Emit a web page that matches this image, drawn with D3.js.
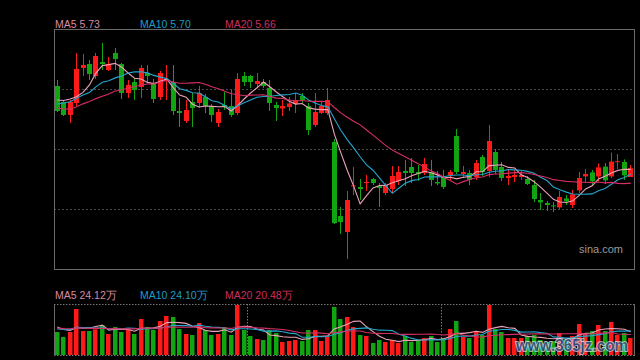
<!DOCTYPE html>
<html><head><meta charset="utf-8">
<script src="https://cdn.jsdelivr.net/npm/d3@7/dist/d3.min.js"></script>
<style>html,body{margin:0;padding:0;background:#000;}svg{display:block;}</style>
</head><body>
<svg id="c" width="640" height="360"></svg>
<script>
// ---- data (prices in CNY, volume in 万) ----
const priorCloses = [6.100,6.085,5.985,5.965,5.975,6.000,6.025,6.015,5.995,6.005,5.950,6.002,6.060,6.085,6.079,6.013,6.029,6.173,6.141];
const opens  = [6.145,6.065,6.000,6.060,6.235,6.255,6.195,6.265,6.225,6.310,6.255,6.110,6.165,6.140,6.210,6.160,6.090,6.170,6.165,6.020,
                5.970,6.065,6.060,6.090,6.045,5.960,6.050,6.045,6.010,6.195,6.195,6.155,6.165,6.135,6.050,6.033,6.040,6.055,6.095,6.045,
                5.950,6.010,6.010,5.865,5.495,5.415,5.643,5.640,5.660,5.680,5.645,5.610,5.630,5.670,5.720,5.740,5.715,5.710,5.715,5.665,
                5.695,5.700,5.895,5.705,5.710,5.690,5.790,5.720,5.815,5.740,5.685,5.690,5.690,5.680,5.650,5.575,5.560,5.548,5.538,5.583,
                5.550,5.623,5.693,5.713,5.693,5.742,5.693,5.764,5.765,5.690];
const closes = [6.020,6.000,6.066,6.230,6.250,6.205,6.295,6.255,6.255,6.280,6.110,6.150,6.125,6.235,6.195,6.080,6.210,6.180,6.020,6.010,
                6.025,6.035,6.110,6.045,6.000,6.015,6.040,6.000,6.180,6.165,6.165,6.170,6.145,6.060,6.035,6.045,6.058,6.075,6.075,5.925,
                6.015,6.045,6.075,5.460,5.465,5.575,5.648,5.630,5.665,5.660,5.635,5.650,5.695,5.715,5.710,5.710,5.705,5.755,5.675,5.658,
                5.640,5.715,5.715,5.715,5.675,5.760,5.715,5.870,5.725,5.685,5.695,5.700,5.700,5.655,5.580,5.563,5.550,5.543,5.590,5.568,
                5.603,5.685,5.705,5.668,5.738,5.673,5.767,5.769,5.698,5.734];
const highs  = [6.175,6.070,6.075,6.310,6.305,6.275,6.310,6.360,6.290,6.335,6.260,6.175,6.185,6.250,6.250,6.180,6.220,6.250,6.250,6.085,
                6.075,6.110,6.145,6.105,6.055,6.030,6.115,6.125,6.210,6.215,6.200,6.210,6.180,6.175,6.065,6.075,6.090,6.110,6.110,6.060,
                6.110,6.070,6.135,5.880,5.540,5.620,5.740,5.680,5.700,5.685,5.660,5.660,5.745,5.745,5.775,5.785,5.750,5.785,5.775,5.720,
                5.725,5.725,5.930,5.745,5.725,5.775,5.800,5.950,5.830,5.765,5.730,5.725,5.720,5.695,5.675,5.610,5.570,5.565,5.620,5.600,
                5.625,5.715,5.730,5.725,5.758,5.760,5.812,5.805,5.778,5.750];
const lows   = [6.015,5.995,5.960,6.045,6.195,6.175,6.180,6.225,6.220,6.225,6.080,6.085,6.075,6.085,6.165,6.060,6.075,6.075,6.000,5.940,
                5.960,5.940,6.035,6.010,5.965,5.940,6.025,5.990,6.000,6.145,6.135,6.135,6.135,6.020,5.970,5.995,6.020,6.010,6.060,5.900,
                5.940,6.005,6.000,5.455,5.405,5.280,5.600,5.575,5.620,5.650,5.540,5.600,5.610,5.650,5.645,5.660,5.670,5.700,5.645,5.650,
                5.630,5.670,5.705,5.685,5.650,5.675,5.695,5.690,5.705,5.670,5.650,5.665,5.675,5.650,5.565,5.525,5.520,5.515,5.530,5.550,
                5.535,5.610,5.660,5.645,5.670,5.655,5.685,5.730,5.675,5.690];
const priorVolumes = [30,26,29,27,31,25,28,30,26,28,22,25,24,26,23,30,28,31,28];
const volumes = [23,18,23,46,24,24,25.7,29.7,21,28,23,25.7,21,36,28,25,34,39,38,26,
                 21,20,32,25,20,21,28,20,50,25,19,16,15,25,22,13,14,15,14,25,
                 25,14,18.3,48,36,38,28,20,19,12,15,13,15,12,19,13,15,17,19,13,
                 17,26,34,18,17,24,20,50,26,23,17,17,17,19,20,15,13,14,22,15,
                 19,31,21,24,30,24,33,20,22,17];
const monthStarts = [30, 60];
const gridPrices = [6.13, 5.83, 5.53];
const priceLabels = ["MA5 5.73", "MA10 5.70", "MA20 5.66"];
const volumeLabels = ["MA5 24.12万", "MA10 24.10万", "MA20 20.48万"];
const maPeriods = [5, 10, 20];

// ---- layout ----
const svg = d3.select("#c");
svg.append("rect").attr("width",640).attr("height",360).attr("fill","#000");
const L = 54, R = 634, T = 29, B = 269, VT = 304, VB = 355;
const n = closes.length;
const idx = d3.range(n);
const step = (R - L) / n;
const x = d3.scaleLinear().domain([0, n]).range([L, R]);
const cx = i => x(i + 0.5);
const y = d3.scaleLinear().domain([5.23, 6.43]).range([B, T]);
const yv = d3.scaleLinear().domain([0, 51]).range([VB, VT]);

const RED = "#ff1a1a", GREEN = "#12a512";
const maColors = ["#eca2b8", "#24a6cf", "#d62e64"];
const labelColors = ["#d98aa2", "#1e9cc4", "#cf2d5e"];
const FONT = "Liberation Sans, Arial, sans-serif";

function movingAvg(prior, vals, p) {
  const all = prior.concat(vals), off = prior.length;
  return vals.map((v, i) => d3.mean(all.slice(off + i - p + 1, off + i + 1)));
}

// grid
svg.append("g").selectAll("line").data(gridPrices).join("line")
  .attr("x1", L).attr("x2", R)
  .attr("y1", d => Math.round(y(d)) + 0.5).attr("y2", d => Math.round(y(d)) + 0.5)
  .attr("stroke", "#4a4a4a").attr("stroke-dasharray", "2,2");

// main border
svg.append("rect").attr("x", L + 0.5).attr("y", T + 0.5).attr("width", R - L).attr("height", B - T)
  .attr("fill", "none").attr("stroke", "#6a6a6a");

// sina
svg.append("text").attr("x", 623).attr("y", 253).attr("text-anchor", "end")
  .attr("font-family", FONT).attr("font-size", 11).attr("fill", "#9a9a9a").text("sina.com");

// candles
const up = i => closes[i] >= opens[i];
const cg = svg.append("g");
cg.selectAll("line").data(idx).join("line")
  .attr("x1", i => Math.floor(cx(i)) + 0.5).attr("x2", i => Math.floor(cx(i)) + 0.5)
  .attr("y1", i => y(highs[i])).attr("y2", i => y(lows[i]))
  .attr("stroke", i => up(i) ? RED : GREEN).attr("stroke-width", 1);
cg.selectAll("rect").data(idx).join("rect")
  .attr("x", i => Math.floor(cx(i)) - 2).attr("width", 5)
  .attr("y", i => y(Math.max(opens[i], closes[i])))
  .attr("height", i => Math.max(1, Math.abs(y(opens[i]) - y(closes[i]))))
  .attr("fill", i => up(i) ? RED : GREEN);

// price MAs
maPeriods.forEach((p, k) => {
  const m = movingAvg(priorCloses, closes, p);
  svg.append("path").datum(m)
    .attr("d", d3.line().x((d, i) => cx(i)).y(d => y(d)))
    .attr("fill", "none").attr("stroke", maColors[k]).attr("stroke-width", 1.1);
});

// labels
const lx = [55, 140, 225];
priceLabels.forEach((t, k) => svg.append("text").attr("x", lx[k]).attr("y", 27.5)
  .attr("font-family", FONT).attr("font-size", 10.5).attr("fill", labelColors[k]).text(t));
volumeLabels.forEach((t, k) => svg.append("text").attr("x", lx[k]).attr("y", 299)
  .attr("font-family", FONT).attr("font-size", 10.5).attr("fill", labelColors[k]).text(t));

// volume panel frame
const vf = svg.append("g");
[VT, VB].forEach(yy => vf.append("line").attr("x1", L).attr("x2", R + 1)
  .attr("y1", yy + 0.5).attr("y2", yy + 0.5).attr("stroke", "#777").attr("stroke-dasharray", "1.5,1.5"));
[L, R].forEach(xx => vf.append("line").attr("x1", xx + 0.5).attr("x2", xx + 0.5)
  .attr("y1", VT).attr("y2", VB + 1).attr("stroke", "#6a6a6a"));
monthStarts.forEach(i => vf.append("line").attr("x1", Math.round(x(i)) + 0.5).attr("x2", Math.round(x(i)) + 0.5)
  .attr("y1", VT).attr("y2", VB).attr("stroke", "#777").attr("stroke-dasharray", "1.5,1.5"));

// volume bars
svg.append("g").selectAll("rect").data(idx).join("rect")
  .attr("x", i => Math.floor(cx(i)) - 2).attr("width", 4.5)
  .attr("y", i => yv(volumes[i])).attr("height", i => VB - yv(volumes[i]))
  .attr("fill", i => up(i) ? RED : GREEN);

// volume MAs
maPeriods.forEach((p, k) => {
  const m = movingAvg(priorVolumes, volumes, p);
  svg.append("path").datum(m)
    .attr("d", d3.line().x((d, i) => cx(i)).y(d => yv(d)))
    .attr("fill", "none").attr("stroke", maColors[k]).attr("stroke-width", 1.1);
});

// watermark
svg.append("text").attr("x", 516).attr("y", 351).attr("textLength", 112).attr("lengthAdjust", "spacingAndGlyphs")
  .attr("font-family", FONT).attr("font-weight", "bold").attr("font-size", 16)
  .attr("fill", "#37598a").attr("stroke", "#dfe6ee").attr("stroke-width", 1.6)
  .attr("paint-order", "stroke").attr("opacity", 0.85).text("www.365jz.com");
</script>
</body></html>
